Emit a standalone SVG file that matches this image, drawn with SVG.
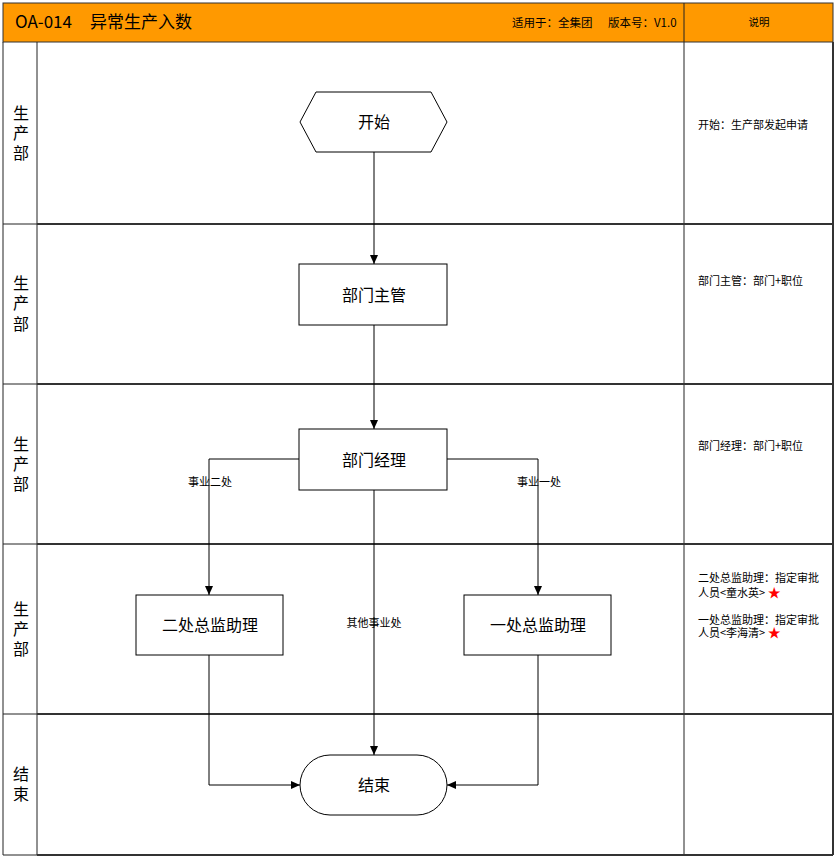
<svg xmlns="http://www.w3.org/2000/svg" width="835" height="861" viewBox="0 0 835 861">
<defs>
<style>
.t{font-family:"Microsoft YaHei","Noto Sans CJK SC","Noto Sans",sans-serif;fill:#000}
.node{fill:#fff;stroke:#000;stroke-width:1}
.conn{fill:none;stroke:#000;stroke-width:1}
.lane{stroke:#333;stroke-width:2}
.thin{stroke:#222;stroke-width:1}
.nt{font-size:16px;text-anchor:middle;dominant-baseline:central}
.lt{font-size:16px;text-anchor:middle}
.note{font-size:11px}
.cl{font-size:11px;text-anchor:middle;dominant-baseline:central}
</style>
<marker id="arr" markerWidth="10" markerHeight="10" refX="9" refY="5" orient="auto" markerUnits="userSpaceOnUse">
<path d="M0,1 L9,5 L0,9 Z" fill="#000"/>
</marker>
</defs>
<rect x="0" y="0" width="835" height="861" fill="#fff"/>
<g id="frame">
<rect x="3" y="3" width="830" height="39" fill="#FF9900" stroke="#333" stroke-width="1"/>
<line x1="684" y1="3" x2="684" y2="855" class="thin"/>
<line x1="37" y1="42" x2="37" y2="855" class="thin"/>
<line x1="3" y1="42" x2="3" y2="855" class="thin"/>
<line x1="833" y1="42" x2="833" y2="855" class="lane"/>
<line x1="3" y1="224" x2="37" y2="224" class="thin"/>
<line x1="37" y1="224" x2="833" y2="224" class="lane"/>
<line x1="3" y1="384" x2="37" y2="384" class="thin"/>
<line x1="37" y1="384" x2="833" y2="384" class="lane"/>
<line x1="3" y1="544" x2="37" y2="544" class="thin"/>
<line x1="37" y1="544" x2="833" y2="544" class="lane"/>
<line x1="3" y1="714" x2="37" y2="714" class="thin"/>
<line x1="37" y1="714" x2="833" y2="714" class="lane"/>
<line x1="3" y1="855" x2="37" y2="855" class="thin"/>
<line x1="37" y1="855" x2="833" y2="855" class="lane"/>
<text x="15" y="28" class="t" font-size="17">OA-014<tspan x="90">异常生产入数</tspan></text>
<text y="27" class="t" font-size="11.5"><tspan x="512">适用于：全集团</tspan><tspan x="608">版本号：V1.0</tspan></text>
<text x="759" y="26" class="t" font-size="10.5" text-anchor="middle">说明</text>
</g>
<g id="lanes">
<text class="t lt"><tspan x="21" y="119">生</tspan><tspan x="21" y="139">产</tspan><tspan x="21" y="159">部</tspan></text>
<text class="t lt"><tspan x="21" y="289">生</tspan><tspan x="21" y="309">产</tspan><tspan x="21" y="330">部</tspan></text>
<text class="t lt"><tspan x="21" y="450">生</tspan><tspan x="21" y="470">产</tspan><tspan x="21" y="490">部</tspan></text>
<text class="t lt"><tspan x="21" y="615">生</tspan><tspan x="21" y="635">产</tspan><tspan x="21" y="655">部</tspan></text>
<text class="t lt"><tspan x="21" y="780">结</tspan><tspan x="21" y="800">束</tspan></text>
</g>
<g id="notes">
<text class="t note" x="698" y="129">开始：生产部发起申请</text>
<text class="t note" x="698" y="285">部门主管：部门+职位</text>
<text class="t note" x="698" y="450">部门经理：部门+职位</text>
<text class="t note"><tspan x="698" y="582">二处总监助理：指定审批</tspan><tspan x="698" y="597">人员&lt;童水英&gt; </tspan><tspan fill="#FF0000" font-size="13">★</tspan><tspan x="698" y="624">一处总监助理：指定审批</tspan><tspan x="698" y="637">人员&lt;李海清&gt; </tspan><tspan fill="#FF0000" font-size="13">★</tspan></text>
</g>
<g id="connectors">
<line x1="374" y1="152" x2="374" y2="264" class="conn" marker-end="url(#arr)"/>
<line x1="374" y1="325" x2="374" y2="429" class="conn" marker-end="url(#arr)"/>
<polyline points="299,459 209,459 209,595" class="conn" marker-end="url(#arr)"/>
<polyline points="447,459 538,459 538,595" class="conn" marker-end="url(#arr)"/>
<line x1="374" y1="490" x2="374" y2="755" class="conn" marker-end="url(#arr)"/>
<polyline points="209,655 209,785 300,785" class="conn" marker-end="url(#arr)"/>
<polyline points="538,655 538,785 447,785" class="conn" marker-end="url(#arr)"/>
<text class="t cl" x="210" y="481">事业二处</text>
<text class="t cl" x="539" y="481">事业一处</text>
<text class="t cl" x="374" y="622">其他事业处</text>
</g>
<g id="start">
<polygon points="300,122 316,92 431,92 447,122 431,152 316,152" class="node"/>
<text class="t nt" x="374" y="121">开始</text>
</g>
<g id="supervisor">
<rect x="299" y="264" width="148" height="61" class="node"/>
<text class="t nt" x="374" y="294">部门主管</text>
</g>
<g id="manager">
<rect x="299" y="429" width="148" height="61" class="node"/>
<text class="t nt" x="374" y="459">部门经理</text>
</g>
<g id="assistant2">
<rect x="136" y="595" width="147" height="60" class="node"/>
<text class="t nt" x="210" y="624">二处总监助理</text>
</g>
<g id="assistant1">
<rect x="464" y="595" width="147" height="60" class="node"/>
<text class="t nt" x="538" y="624">一处总监助理</text>
</g>
<g id="end">
<rect x="300" y="755" width="147" height="60" rx="30" ry="30" class="node"/>
<text class="t nt" x="374" y="784">结束</text>
</g>
</svg>
